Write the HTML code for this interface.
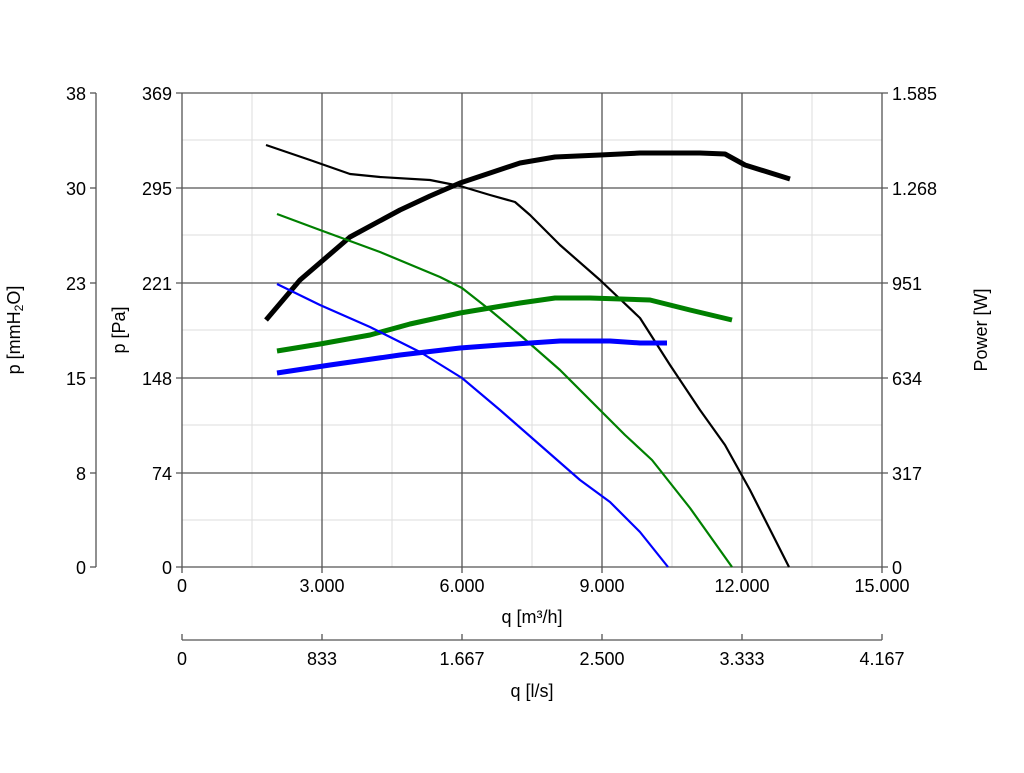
<!DOCTYPE html><html><head><style>body{margin:0;background:#fff}svg text{font-family:"Liberation Sans",sans-serif;font-size:18px;fill:#000}</style></head><body>
<svg width="1024" height="768" viewBox="0 0 1024 768">
<g stroke="#ddd" stroke-width="1">
<line x1="252" y1="93" x2="252" y2="567"/><line x1="392" y1="93" x2="392" y2="567"/><line x1="532" y1="93" x2="532" y2="567"/><line x1="672" y1="93" x2="672" y2="567"/><line x1="812" y1="93" x2="812" y2="567"/>
<line x1="182" y1="140" x2="882" y2="140"/><line x1="182" y1="235" x2="882" y2="235"/><line x1="182" y1="330" x2="882" y2="330"/><line x1="182" y1="425" x2="882" y2="425"/><line x1="182" y1="520" x2="882" y2="520"/>
</g>
<g stroke="#555" stroke-width="1.3">
<line x1="322" y1="93" x2="322" y2="567"/><line x1="462" y1="93" x2="462" y2="567"/><line x1="602" y1="93" x2="602" y2="567"/><line x1="742" y1="93" x2="742" y2="567"/>
<line x1="176" y1="93" x2="888" y2="93"/><line x1="176" y1="188" x2="888" y2="188"/><line x1="176" y1="283" x2="888" y2="283"/><line x1="176" y1="378" x2="888" y2="378"/><line x1="176" y1="473" x2="888" y2="473"/><line x1="176" y1="567" x2="888" y2="567"/>
<line x1="182" y1="93" x2="182" y2="573"/><line x1="882" y1="93" x2="882" y2="573"/>
<line x1="322" y1="567" x2="322" y2="573"/><line x1="462" y1="567" x2="462" y2="573"/><line x1="602" y1="567" x2="602" y2="573"/><line x1="742" y1="567" x2="742" y2="573"/>
<line x1="96" y1="93" x2="96" y2="567"/>
<line x1="90" y1="93" x2="96" y2="93"/><line x1="90" y1="188" x2="96" y2="188"/><line x1="90" y1="283" x2="96" y2="283"/><line x1="90" y1="378" x2="96" y2="378"/><line x1="90" y1="473" x2="96" y2="473"/><line x1="90" y1="567" x2="96" y2="567"/>
<line x1="182" y1="640" x2="882" y2="640"/>
<line x1="182" y1="634" x2="182" y2="640"/><line x1="322" y1="634" x2="322" y2="640"/><line x1="462" y1="634" x2="462" y2="640"/><line x1="602" y1="634" x2="602" y2="640"/><line x1="742" y1="634" x2="742" y2="640"/><line x1="882" y1="634" x2="882" y2="640"/>
</g>
<g fill="none" stroke-linejoin="round" stroke-linecap="butt">
<polyline stroke="#000" stroke-width="2.2" points="266,145 310,160 350,174 380,177 430,180 460,186 490,195 515,202 530,215 560,245 600,280 640,318 670,365 700,410 725,445 750,490 789,567"/>
<polyline stroke="#000" stroke-width="5" points="266,320 300,280 350,237 400,210 430,196 460,183 490,173 520,163 555,157 600,155 640,153 700,153 725,154 745,165 790,179"/>
<polyline stroke="#008000" stroke-width="2.2" points="277,214 320,230 380,252 440,277 462,288 490,310 520,335 560,370 600,410 625,435 652,460 690,508 732,567"/>
<polyline stroke="#008000" stroke-width="5" points="277,351 320,344 370,335 410,324 460,313 520,303 555,298 590,298 650,300 690,310 732,320"/>
<polyline stroke="#0000ff" stroke-width="2.2" points="277,284 320,305 370,327 420,352 462,378 500,410 540,445 580,480 610,502 640,532 668,567"/>
<polyline stroke="#0000ff" stroke-width="5" points="277,373 330,365 400,355 460,348 500,345 560,341 610,341 640,343 667,343"/>
</g>
<g text-anchor="end">
<text x="172" y="100">369</text><text x="172" y="195">295</text><text x="172" y="290">221</text><text x="172" y="385">148</text><text x="172" y="480">74</text><text x="172" y="574">0</text>
<text x="86" y="100">38</text><text x="86" y="195">30</text><text x="86" y="290">23</text><text x="86" y="385">15</text><text x="86" y="480">8</text><text x="86" y="574">0</text>
</g>
<g text-anchor="start">
<text x="892" y="100">1.585</text><text x="892" y="195">1.268</text><text x="892" y="290">951</text><text x="892" y="385">634</text><text x="892" y="480">317</text><text x="892" y="574">0</text>
</g>
<g text-anchor="middle">
<text x="182" y="592">0</text><text x="322" y="592">3.000</text><text x="462" y="592">6.000</text><text x="602" y="592">9.000</text><text x="742" y="592">12.000</text><text x="882" y="592">15.000</text>
<text x="532" y="623">q [m³/h]</text>
<text x="182" y="665">0</text><text x="322" y="665">833</text><text x="462" y="665">1.667</text><text x="602" y="665">2.500</text><text x="742" y="665">3.333</text><text x="882" y="665">4.167</text>
<text x="532" y="697">q [l/s]</text>
<text transform="translate(125,330) rotate(-90)">p [Pa]</text>
<text transform="translate(20,330) rotate(-90)">p [mmH<tspan font-size="12" dy="3">2</tspan><tspan dy="-3">O]</tspan></text>
<text transform="translate(987,330) rotate(-90)">Power [W]</text>
</g>
</svg></body></html>
